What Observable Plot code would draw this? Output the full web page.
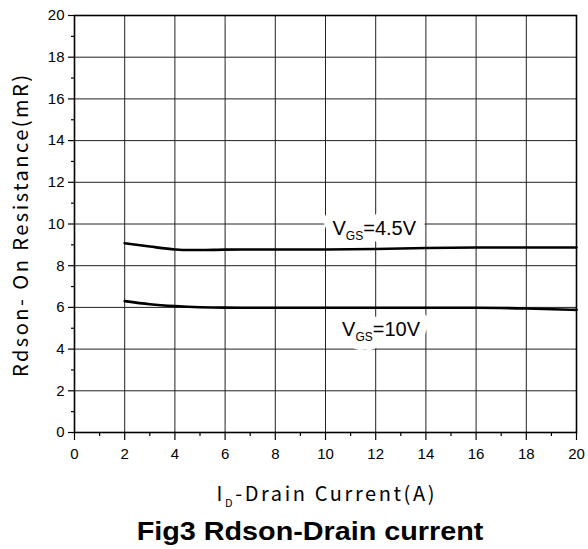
<!DOCTYPE html>
<html>
<head>
<meta charset="utf-8">
<script src="https://cdn.jsdelivr.net/npm/d3@7"></script>
<script src="https://cdn.jsdelivr.net/npm/@observablehq/plot@0.6"></script>
<style>
  body { margin: 0; background: #fff; }
  #caption { width: 588px; height: 37px; position: relative; }
  #caption span { position: absolute; left: 310px; top: 4px; white-space: nowrap;
    transform: translateX(-50%) scaleX(1.15);
    font: bold 25px "Liberation Sans", Arial, sans-serif; line-height: 30px; color: #000; }
</style>
</head>
<body>
<div id="chart"></div>
<div id="caption"><span>Fig3 Rdson-Drain current</span></div>
<script>
// Data
const currentA = [2, 3, 4, 4.5, 5, 6, 8, 10, 12, 14, 16, 18, 20];
const rdsVgs45 = [9.08, 8.92, 8.78, 8.75, 8.75, 8.77, 8.78, 8.78, 8.8, 8.85, 8.87, 8.87, 8.87];
const rdsVgs10 = [6.3, 6.15, 6.06, 6.03, 6.01, 5.99, 5.98, 5.98, 5.98, 5.98, 5.98, 5.95, 5.88];
const xTicks = [0, 2, 4, 6, 8, 10, 12, 14, 16, 18, 20];
const yTicks = [0, 2, 4, 6, 8, 10, 12, 14, 16, 18, 20];
const xMinor = [1, 3, 5, 7, 9, 11, 13, 15, 17, 19];
const yMinor = [1, 3, 5, 7, 9, 11, 13, 15, 17, 19];
const seriesLabels = [
  {x: 10.28, y: 9.45, label: "VGS=4.5V"},
  {x: 10.66, y: 4.65, label: "VGS=10V"}
];
const xTitle = "ID-Drain Current(A)";
const yTitle = "Rdson- On Resistance(mR)";

const rows = [];
currentA.forEach((c, i) => {
  rows.push({c, r: rdsVgs45[i], s: "4.5V"});
  rows.push({c, r: rdsVgs10[i], s: "10V"});
});

const titleFont = "'Noto Sans CJK SC', 'DejaVu Sans', sans-serif";

const svg = Plot.plot({
  width: 588,
  height: 512,
  marginLeft: 74,
  marginRight: 12,
  marginTop: 15,
  marginBottom: 80,
  style: {fontFamily: "'Liberation Sans', Arial, sans-serif", background: "#fff", color: "#000"},
  x: {domain: [0, 20]},
  y: {domain: [0, 20]},
  marks: [
    Plot.gridX(xTicks, {stroke: "#222", strokeOpacity: 1, strokeWidth: 1}),
    Plot.gridY(yTicks, {stroke: "#222", strokeOpacity: 1, strokeWidth: 1}),
    Plot.axisX(xTicks, {tickSize: 8, tickPadding: 8, fontSize: 15, stroke: "#000", strokeWidth: 1.2}),
    Plot.axisX(xMinor, {tickSize: 4, text: null, stroke: "#000", strokeWidth: 1.2}),
    Plot.axisY(yTicks, {tickSize: 6, tickPadding: 4, fontSize: 15, stroke: "#000", strokeWidth: 1.2}),
    Plot.axisY(yMinor, {tickSize: 3, text: null, stroke: "#000", strokeWidth: 1.2}),
    Plot.frame({stroke: "#000", strokeWidth: 1.6}),
    Plot.text(seriesLabels, {x: "x", y: "y", text: "label", textAnchor: "start", lineAnchor: "bottom",
      fontSize: 20, fill: "#fff", stroke: "#fff", strokeWidth: 18, className: "vgs"}),
    Plot.line(rows, {x: "c", y: "r", z: "s", stroke: "#000", strokeWidth: 2.6, curve: "monotone-x"}),
    Plot.text(seriesLabels, {x: "x", y: "y", text: "label", textAnchor: "start", lineAnchor: "bottom",
      fontSize: 20, fill: "#000", className: "vgs"}),
    Plot.text([xTitle], {frameAnchor: "bottom", dy: 68, lineAnchor: "bottom", textAnchor: "middle", fontSize: 20,
      fontFamily: titleFont, fill: "#000", className: "xtitle"}),
    Plot.text([yTitle], {frameAnchor: "left", dx: -53, rotate: -90, textAnchor: "middle", fontSize: 20,
      fontFamily: titleFont, fill: "#000", dy: 2, className: "ytitle"})
  ]
});

// subscripts
d3.select(svg).selectAll(".vgs text").each(function() {
  const t = this.textContent;
  const rest = t.slice(3);
  const el = d3.select(this);
  el.text(null);
  el.append("tspan").text("V");
  el.append("tspan").attr("font-size", 12).attr("dy", 5).text("GS");
  el.append("tspan").attr("dy", -5).text(rest);
});
d3.select(svg).selectAll(".xtitle text").each(function() {
  const t = this.textContent;
  const el = d3.select(this);
  el.text(null);
  el.append("tspan").text(t.slice(0, 1));
  el.append("tspan").attr("font-size", 11).attr("dy", 6).text(t.slice(1, 2));
  el.append("tspan").attr("dy", -6).text(t.slice(2));
  el.attr("textLength", 218).attr("lengthAdjust", "spacing");
});
d3.select(svg).selectAll(".ytitle text").attr("textLength", 302).attr("lengthAdjust", "spacing");

document.getElementById("chart").appendChild(svg);
</script>
</body>
</html>
